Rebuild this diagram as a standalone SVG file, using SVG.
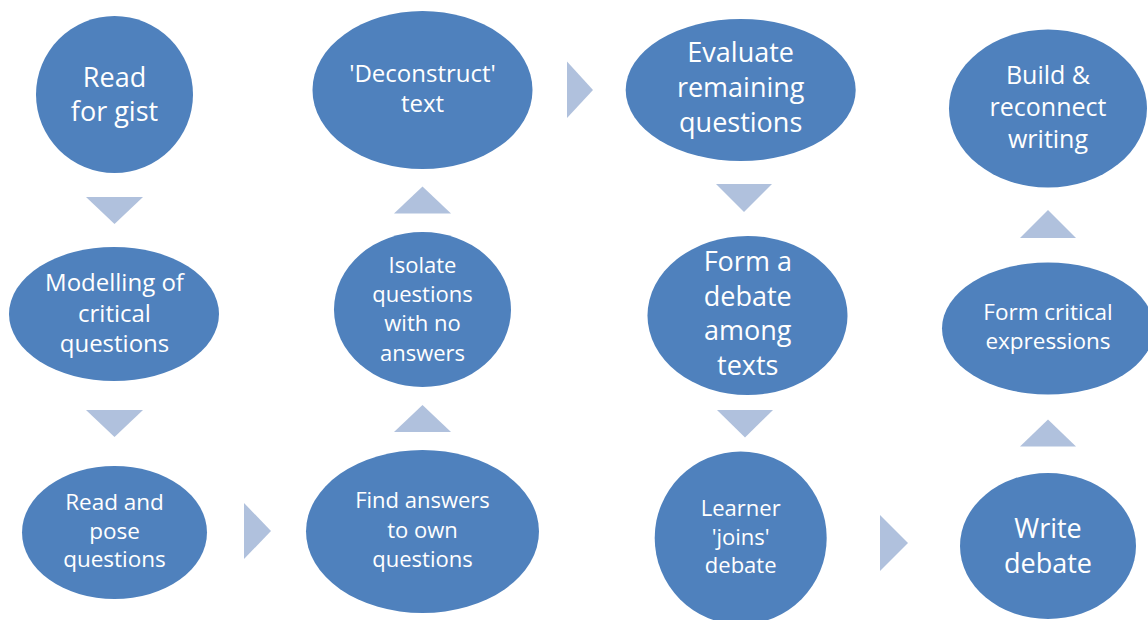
<svg xmlns="http://www.w3.org/2000/svg" width="1148" height="620" viewBox="0 0 1148 620">
<style>
.n{fill:#4F81BD}
.a{fill:#B0C1DD}
text{fill:#FFFFFF;font-family:"Open Sans","Noto Sans","Liberation Sans",sans-serif;text-anchor:middle}
</style>
<rect width="1148" height="620" fill="#FFFFFF"/>
<g id="connectors">
<polygon class="a" points="86,197 143,197 114.5,224"/>
<polygon class="a" points="86,410 143,410 114.5,437"/>
<polygon class="a" points="244,503 271,531 244,559"/>
<polygon class="a" points="394,432 451,432 422.5,405"/>
<polygon class="a" points="394,213.5 451,213.5 422.5,186.5"/>
<polygon class="a" points="567,61.5 593,90 567,118"/>
<polygon class="a" points="716,184 772,184 744,212"/>
<polygon class="a" points="717,410 773,410 745,437.5"/>
<polygon class="a" points="880,515 908,543 880,571"/>
<polygon class="a" points="1020,446.5 1076,446.5 1048,419.5"/>
<polygon class="a" points="1020,238 1076,238 1048,210"/>
</g>
<g id="n1"><ellipse class="n" cx="114.5" cy="94.5" rx="78.5" ry="78.5"/>
<text font-size="27"><tspan x="114.5" y="87">Read</tspan><tspan x="114.5" y="121">for gist</tspan></text></g>
<g id="n2"><ellipse class="n" cx="114" cy="314" rx="105" ry="67"/>
<text font-size="24"><tspan x="114.5" y="291">Modelling of</tspan><tspan x="114.5" y="322">critical</tspan><tspan x="114.5" y="352">questions</tspan></text></g>
<g id="n3"><ellipse class="n" cx="114.5" cy="532.5" rx="92.5" ry="66.5"/>
<text font-size="22.5"><tspan x="114.5" y="510">Read and</tspan><tspan x="114.5" y="539">pose</tspan><tspan x="114.5" y="567">questions</tspan></text></g>
<g id="n4"><ellipse class="n" cx="422.5" cy="531.5" rx="116.5" ry="81.5"/>
<text font-size="22"><tspan x="422.5" y="508">Find answers</tspan><tspan x="422.5" y="538">to own</tspan><tspan x="422.5" y="566.5">questions</tspan></text></g>
<g id="n5"><ellipse class="n" cx="422.5" cy="309.5" rx="88.5" ry="77.5"/>
<text font-size="22"><tspan x="422.5" y="272.5">Isolate</tspan><tspan x="422.5" y="302">questions</tspan><tspan x="422.5" y="331">with no</tspan><tspan x="422.5" y="360.5">answers</tspan></text></g>
<g id="n6"><ellipse class="n" cx="422.5" cy="90" rx="110" ry="79"/>
<text font-size="24"><tspan x="422.5" y="81.5">'Deconstruct'</tspan><tspan x="422.5" y="112">text</tspan></text></g>
<g id="n7"><ellipse class="n" cx="740.7" cy="90" rx="115" ry="71"/>
<text font-size="27"><tspan x="740.7" y="61.5">Evaluate</tspan><tspan x="740.7" y="97">remaining</tspan><tspan x="740.7" y="132">questions</tspan></text></g>
<g id="n8"><ellipse class="n" cx="747.5" cy="315.5" rx="100" ry="79.5"/>
<text font-size="27"><tspan x="747.8" y="270.5">Form a</tspan><tspan x="747.8" y="305.5">debate</tspan><tspan x="747.8" y="340">among</tspan><tspan x="747.8" y="375">texts</tspan></text></g>
<g id="n9"><ellipse class="n" cx="740.7" cy="538" rx="86" ry="86.5"/>
<text font-size="22"><tspan x="740.7" y="516">Learner</tspan><tspan x="740.7" y="545">'joins'</tspan><tspan x="740.7" y="573">debate</tspan></text></g>
<g id="n10"><ellipse class="n" cx="1048" cy="546" rx="88" ry="73"/>
<text font-size="27"><tspan x="1048" y="537.5">Write</tspan><tspan x="1048" y="572.5">debate</tspan></text></g>
<g id="n11"><ellipse class="n" cx="1048" cy="328.5" rx="106" ry="66"/>
<text font-size="22.5"><tspan x="1048" y="319.5">Form critical</tspan><tspan x="1048" y="349">expressions</tspan></text></g>
<g id="n12"><ellipse class="n" cx="1048" cy="108.5" rx="99" ry="79"/>
<text font-size="25"><tspan x="1048" y="84">Build &amp;</tspan><tspan x="1048" y="115.5">reconnect</tspan><tspan x="1048" y="147.5">writing</tspan></text></g>
</svg>
